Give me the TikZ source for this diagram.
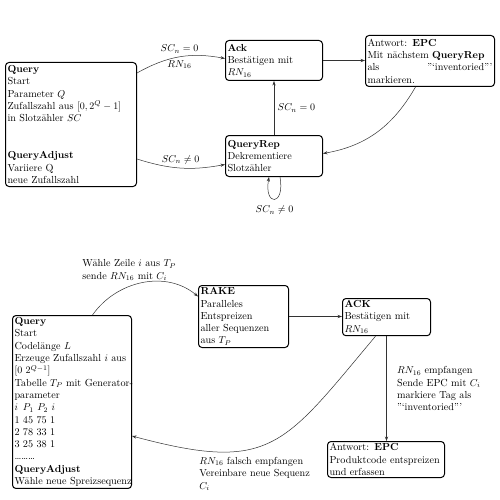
\documentclass[tikz,border=0pt]{standalone}
\usetikzlibrary{arrows.meta,calc}
\begin{document}
\begin{tikzpicture}[x=1pt,y=-1pt,
  box/.style={draw, line width=1pt, rounded corners=3.5pt, anchor=north west,
    inner xsep=2pt, inner ysep=2pt, align=left,
    font=\fontsize{10.2}{12.3}\selectfont},
  arr/.style={-{Stealth[length=4.5pt,width=3.2pt]}, line width=0.5pt, draw=black!80},
  lab/.style={font=\fontsize{10.2}{12.3}\selectfont}]
\fill[white] (0,0) rectangle (500,500);
\useasboundingbox (0,0) rectangle (500,500);

% ---------- top diagram ----------
\node[box, text width=127pt, minimum height=124pt] (q1) at (5,62)
  {\textbf{Query}\\Start\\Parameter $Q$\\\makebox[\linewidth][s]{Zufallszahl aus \mbox{$[0,2^Q-1]$}}\\in Slotzähler $SC$\\[24.6pt]\textbf{QueryAdjust}\\Variiere Q\\neue Zufallszahl};
\node[box, text width=93pt, minimum height=40pt] (ack) at (225,40)
  {\textbf{Ack}\\Bestätigen mit\\$RN_{16}$};
\node[box, text width=125pt, minimum height=51pt] (ant) at (365,35)
  {Antwort: \textbf{EPC}\\\mbox{Mit nächstem \textbf{QueryRep}}\\als\hfill ”‘inventoried”’\\markieren.};
\node[box, text width=93pt, minimum height=41pt] (qr) at (225,135)
  {\textbf{QueryRep}\\Dekrementiere\\Slotzähler};

\draw[arr] ([yshift=-11pt]q1.north east) to[bend left=20]
  node[lab,above]{$SC_n=0$} node[lab,below]{$RN_{16}$} ([yshift=2pt]ack.west);
\draw[arr] ([yshift=28pt]q1.south east) to[bend right=14]
  node[lab,above]{$SC_n\neq 0$} ([yshift=-8.5pt]qr.west);
\draw[arr] (ack.east) -- (ack.east -| ant.west);
\draw[arr] ([xshift=-14.5pt]ant.south) to[out=-120,in=10] ([yshift=2.5pt]qr.east);
\draw[arr] (qr.north) -- node[lab,right]{$SC_n=0$} (ack.south);
\draw[arr] ([xshift=6pt]qr.south) to[out=-80,in=-100,looseness=7]
  node[lab,below,yshift=-3pt]{$SC_n\neq 0$} ([xshift=-5pt]qr.south);

% ---------- bottom diagram ----------
\node[box, text width=115pt, minimum height=172pt] (q2) at (12,315)
  {\textbf{Query}\\Start\\Codelänge $L$\\\makebox[\linewidth][s]{Erzeuge Zufallszahl $i$ aus}\\$[0\ 2^{Q-1}]$\\\mbox{Tabelle $T_P$ mit Generator-}\\parameter\\\makebox[8.5pt][l]{$i$}$P_1$ $P_2$ $i$\\\makebox[8.5pt][l]{1}45 75 1\\\makebox[8.5pt][l]{2}78 33 1\\\makebox[8.5pt][l]{3}25 38 1\\\dots\dots\dots\\\textbf{QueryAdjust}\\\mbox{Wähle neue Spreizsequenz}};
\node[box, text width=86pt, minimum height=62pt] (rake) at (198,285)
  {\textbf{RAKE}\\Paralleles\\Entspreizen\\aller Sequenzen\\aus $T_P$};
\node[box, text width=84pt, minimum height=36pt] (ack2) at (342,298)
  {\textbf{ACK}\\Bestätigen mit\\$RN_{16}$};
\node[box, text width=113pt, minimum height=36pt] (ant2) at (327,441)
  {Antwort: \textbf{EPC}\\\makebox[\linewidth][s]{Produktcode entspreizen}\\und erfassen};

\draw[arr] ([xshift=20.5pt]q2.north) to[out=55,in=140]
  node[lab,pos=0.35,anchor=south,align=left,xshift=4pt,yshift=4pt]{Wähle Zeile $i$ aus $T_P$\\sende $RN_{16}$ mit $C_i$}
  ([yshift=20pt]rake.west);
\draw[arr] (rake.east) -- (rake.east -| ack2.west);
\draw[arr] (ack2.south) -- node[lab,right,align=left,xshift=7pt]{$RN_{16}$ empfangen\\Sende EPC mit $C_i$\\markiere Tag als\\”‘inventoried”’} (ack2.south |- ant2.north);
\draw[arr] ([xshift=-11pt]ack2.south) to[out=-130,in=-15,looseness=1.4]
  node[lab,pos=0.75,anchor=north west,align=left,xshift=-20pt,yshift=-2pt]{$RN_{16}$ falsch empfangen\\Vereinbare neue Sequenz\\$C_i$}
  ([yshift=-34pt]q2.east);
\end{tikzpicture}
\end{document}
